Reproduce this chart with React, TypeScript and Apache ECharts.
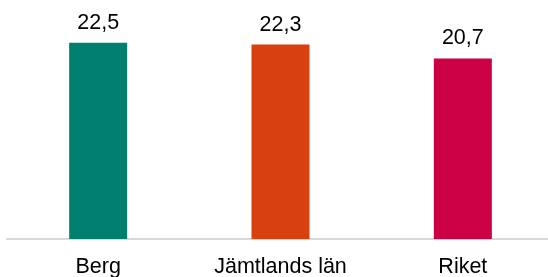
import React, { useEffect, useRef } from "react";
import * as echarts from "echarts";

const categories = ["Berg", "Jämtlands län", "Riket"];
const values = [22.5, 22.3, 20.7];
const colors = ["#007F6E", "#D9400F", "#CC0044"];

export default function App() {
  const ref = useRef<HTMLDivElement>(null);
  useEffect(() => {
    if (!ref.current) return;
    const chart = echarts.init(ref.current, null, { renderer: "svg" });
    chart.setOption({
      animation: false,
      grid: { left: 7, right: -6, top: 21, bottom: 38, outerBoundsMode: "none" },
      xAxis: {
        type: "category",
        data: categories,
        axisLine: { lineStyle: { color: "#D9D9D9", width: 2 } },
        axisTick: { show: false },
        axisLabel: {
          color: "#000",
          fontSize: 21.5,
          fontFamily: "Liberation Sans, Arial, sans-serif",
          margin: 16,
        },
      },
      yAxis: {
        type: "value",
        min: 0,
        max: 25,
        show: false,
        splitLine: { show: false },
      },
      series: [
        {
          type: "bar",
          barWidth: 58,
          data: values.map((v, i) => ({ value: v, itemStyle: { color: colors[i] } })),
          label: {
            show: true,
            position: "top",
            distance: 10,
            color: "#000",
            fontSize: 21.5,
            fontFamily: "Liberation Sans, Arial, sans-serif",
            formatter: (p: any) => String(p.value.toFixed(1)).replace(".", ","),
          },
        },
      ],
    });
    return () => chart.dispose();
  }, []);
  return (
    <div
      ref={ref}
      style={{ position: "fixed", left: 0, top: 0, width: 548, height: 277 }}
    />
  );
}
